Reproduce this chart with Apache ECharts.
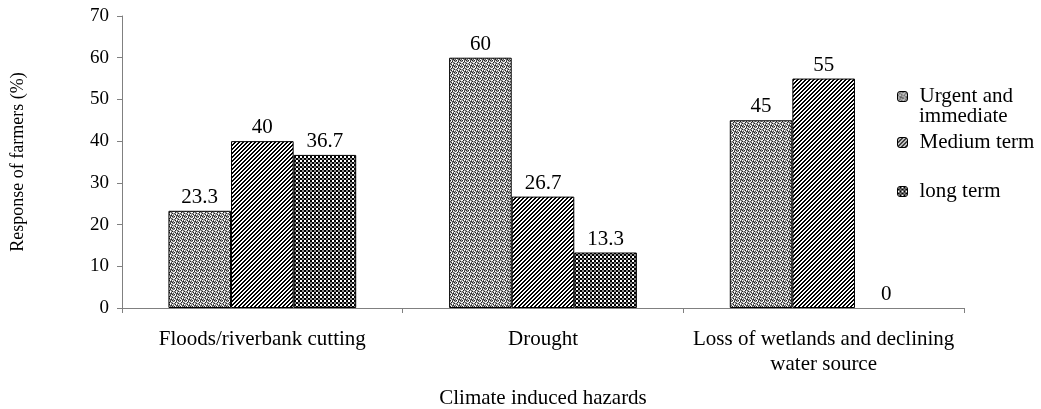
<!DOCTYPE html>
<html>
<head>
<meta charset="utf-8">
<script src="https://cdn.jsdelivr.net/npm/echarts@6/dist/echarts.min.js"></script>
<style>
html,body{margin:0;padding:0;background:#fff;}
#chart{width:1041px;height:409px;}
</style>
</head>
<body>
<div id="chart"></div>
<script>
const categories = ['Floods/riverbank cutting', 'Drought', 'Loss of wetlands and declining\nwater source'];
const seriesNames = ['Urgent and immediate', 'Medium term', 'long term'];
const urgentValues = [23.3, 60, 45];
const mediumValues = [40, 26.7, 55];
const longValues = [36.7, 13.3, 0];
const yTicks = [0, 10, 20, 30, 40, 50, 60, 70];

function makeTile(w, h, fn) {
  const c = document.createElement('canvas');
  c.width = w; c.height = h;
  const ctx = c.getContext('2d');
  for (let y = 0; y < h; y++) for (let x = 0; x < w; x++) {
    ctx.fillStyle = fn(x, y);
    ctx.fillRect(x, y, 1, 1);
  }
  return c;
}
const dotMap = [
  '0w1g0g',
  'gw0wg1',
  'w0g1gw',
  '1gwg0g',
  'g0w1wg',
  'wg10g1'
];
const dotTile = makeTile(6, 6, (x, y) => {
  const ch = dotMap[y][x];
  return ch === 'w' ? '#ffffff' : ch === '0' ? '#222222' : ch === '1' ? '#5a5a5a' : '#a8a8a8';
});
const stripeTile = makeTile(4, 4, (x, y) => ((x + y) % 4 < 2 ? '#000000' : '#ffffff'));
const checkTile = makeTile(4, 4, (x, y) => {
  const a = Math.floor(x / 2), b = Math.floor(y / 2);
  if (a === 0 && b === 0) return '#ffffff';
  if (a === 1 && b === 1) return '#8a8a8a';
  return '#000000';
});
const fills = [
  { image: dotTile, repeat: 'repeat' },
  { image: stripeTile, repeat: 'repeat' },
  { image: checkTile, repeat: 'repeat' }
];
const values = [urgentValues, mediumValues, longValues];
const FONT = '"Liberation Serif", "Times New Roman", serif';
const BIG = 21;

const chart = echarts.init(document.getElementById('chart'), null, { renderer: 'canvas' });
const legendTops = [86, 132, 181];
const legendLabels = ['Urgent and', 'Medium term', 'long term'];
const option = {
  animation: false,
  backgroundColor: '#ffffff',
  grid: { left: 122, right: 77, top: 16, bottom: 101, containLabel: false, outerBoundsMode: 'none' },
  legend: seriesNames.map((n, i) => ({
    data: [n],
    left: 897,
    top: legendTops[i],
    padding: 0,
    itemWidth: 10,
    itemHeight: 10,
    selectedMode: false,
    formatter: () => '{t|' + legendLabels[i] + '}',
    textStyle: {
      fontFamily: FONT, fontSize: BIG, color: '#000', lineHeight: 21,
      rich: { t: { fontFamily: FONT, fontSize: BIG, color: '#000', lineHeight: 21, padding: [0, 0, 0, 7] } }
    },
    itemStyle: { borderColor: '#000', borderWidth: 1 }
  })),
  graphic: [{
    type: 'text',
    left: 919,
    top: 106,
    style: { text: 'immediate', font: BIG + 'px ' + FONT, fill: '#000' },
    silent: true
  }],
  xAxis: {
    type: 'category',
    data: categories,
    name: 'Climate induced hazards',
    nameLocation: 'middle',
    nameGap: 80,
    nameTextStyle: { fontFamily: FONT, fontSize: BIG, color: '#000' },
    axisLine: { lineStyle: { color: '#808080', width: 1 } },
    axisTick: { show: true, length: 5, lineStyle: { color: '#808080' } },
    axisLabel: { fontFamily: FONT, fontSize: BIG, color: '#000', margin: 19, lineHeight: 25, interval: 0 }
  },
  yAxis: {
    type: 'value',
    min: 0,
    max: 70,
    interval: 10,
    name: 'Response of farmers (%)',
    nameLocation: 'middle',
    nameGap: 95,
    nameTextStyle: { fontFamily: FONT, fontSize: 18, color: '#000' },
    axisLine: { show: true, lineStyle: { color: '#808080', width: 1 } },
    axisTick: { show: true, length: 5, lineStyle: { color: '#808080' } },
    splitLine: { show: false },
    axisLabel: { fontFamily: FONT, fontSize: 19, color: '#000', margin: 13,
      formatter: v => yTicks.includes(v) ? String(v) : '' }
  },
  series: seriesNames.map((n, i) => ({
    name: n,
    type: 'bar',
    data: values[i].map(v => v === 0 ? { value: v, itemStyle: { borderWidth: 0 } } : v),
    barWidth: '22.3%',
    barGap: '0%',
    itemStyle: { color: fills[i], borderColor: '#000', borderWidth: 1 },
    label: { show: true, position: 'top', distance: 3, fontFamily: FONT, fontSize: BIG, color: '#000' }
  }))
};
chart.setOption(option);
</script>
</body>
</html>
